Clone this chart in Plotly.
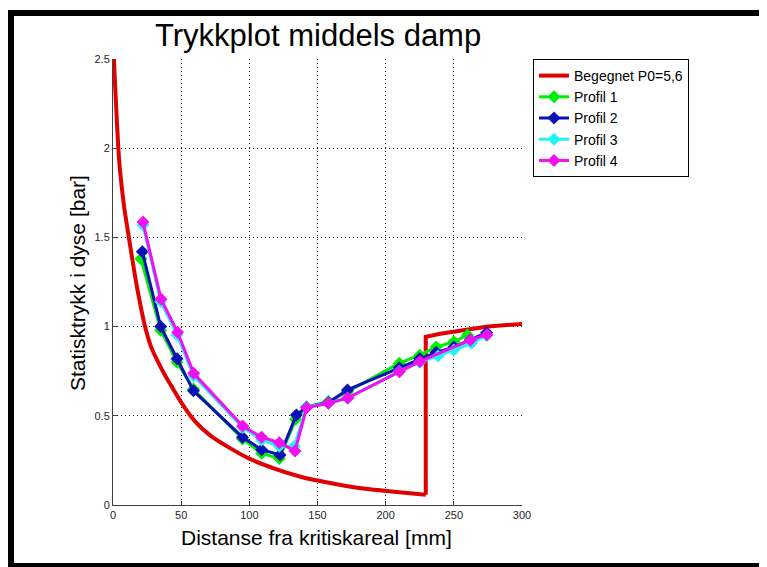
import plotly.graph_objects as go

# Begegnet P0=5,6 (red): falling branch, then the jump and upper branch
red_x = [0.4, 0.7, 2, 3.9, 5.1, 8, 11.2, 15.6, 18.1, 23.5, 28, 33.2, 39.4, 43, 50,
         60, 71, 83.4, 100, 120, 137, 150, 170, 188.5, 210, 229.4]
red_y = [2.6, 2.5, 2.28, 2.0, 1.88, 1.68, 1.52, 1.31, 1.2, 1.0, 0.885, 0.80, 0.71, 0.665, 0.575,
         0.47, 0.392, 0.33, 0.26, 0.2, 0.16, 0.137, 0.108, 0.088, 0.072, 0.058]
red_jump_x = [229.4, 229.4, 240, 257, 275, 300]
red_jump_y = [0.058, 0.943, 0.96, 0.981, 1.0, 1.015]

p1_x = [20.5, 35, 47, 59, 95, 109, 122, 134, 142, 158, 172, 210, 225, 237, 250, 260]
p1_y = [1.38, 0.98, 0.80, 0.65, 0.37, 0.29, 0.26, 0.48, 0.55, 0.58, 0.635, 0.795, 0.84, 0.885, 0.915, 0.953]

p2_x = [21.5, 35, 47, 59, 95, 109, 122.5, 134.5, 142, 158, 172, 210, 225, 237, 250, 262, 274]
p2_y = [1.42, 1.0, 0.82, 0.64, 0.38, 0.31, 0.28, 0.505, 0.55, 0.575, 0.645, 0.77, 0.82, 0.855, 0.885, 0.925, 0.966]

p3_x = [22, 35, 47, 59, 95, 109, 122, 133, 142, 158, 172, 210, 225, 238.5, 250, 263, 274]
p3_y = [1.57, 1.14, 0.955, 0.725, 0.435, 0.365, 0.33, 0.33, 0.55, 0.57, 0.60, 0.75, 0.80, 0.835, 0.869, 0.906, 0.95]

p4_x = [22, 35.2, 47.4, 59.2, 95.1, 109, 122, 133.5, 142, 158, 172.3, 210, 225.2, 262.2, 274.3]
p4_y = [1.586, 1.155, 0.968, 0.738, 0.443, 0.38, 0.349, 0.303, 0.545, 0.57, 0.60, 0.747, 0.805, 0.925, 0.955]

profiles = [
    ("Profil 1", p1_x, p1_y, "#00ee00"),
    ("Profil 2", p2_x, p2_y, "#0a10b8"),
    ("Profil 3", p3_x, p3_y, "#22f4f4"),
    ("Profil 4", p4_x, p4_y, "#f010f0"),
]

FONT = "Liberation Sans, Arial, sans-serif"
RED = "#e00000"

fig = go.Figure()
fig.add_trace(go.Scatter(x=red_x, y=red_y, mode="lines", name="Begegnet P0=5,6", legendgroup="red",
                         line=dict(color=RED, width=4, shape="spline", smoothing=0.8)))
fig.add_trace(go.Scatter(x=red_jump_x, y=red_jump_y, mode="lines", legendgroup="red", showlegend=False,
                         line=dict(color=RED, width=4)))
for name, xs, ys, col in profiles:
    fig.add_trace(go.Scatter(x=xs, y=ys, mode="lines+markers", name=name,
                             line=dict(color=col, width=3),
                             marker=dict(symbol="diamond", size=10, color=col)))

# the page body has an 8px margin, so the figure is drawn 8px smaller and shifted
OFF = 8
W, H = 767 - OFF, 567 - OFF
# plot area in reference pixels: x 113..522, y 59..505
L, R, T, B = 113 - OFF, 522 - OFF, 59 - OFF, 505 - OFF


def px(xp):
    return (xp - OFF - L) / (R - L)


def py(yp):
    return (B - (yp - OFF)) / (B - T)


frame = [(7, 10, 14, 567), (7, 10, 767, 16), (7, 563, 767, 567), (764, 10, 766, 567)]
shapes = [dict(type="rect", xref="paper", yref="paper", x0=px(a), x1=px(c), y0=py(d), y1=py(b),
               fillcolor="black", line=dict(width=0), layer="above") for a, b, c, d in frame]

axis_common = dict(showgrid=True, gridcolor="#202020", griddash="1px,3px", gridwidth=1,
                   showline=True, linecolor="#404040", linewidth=1,
                   ticks="inside", ticklen=4, tickcolor="#404040",
                   tickfont=dict(family=FONT, size=11, color="#262626"),
                   zeroline=False, fixedrange=True)

fig.update_layout(
    width=W, height=H,
    margin=dict(l=L, r=W - R, t=T, b=H - B, autoexpand=False),
    paper_bgcolor="white", plot_bgcolor="white",
    xaxis=dict(range=[0, 300], dtick=50, **axis_common),
    yaxis=dict(range=[0, 2.5], dtick=0.5, **axis_common),
    showlegend=True,
    legend=dict(x=px(533), y=1.0, xanchor="left", yanchor="top",
                bordercolor="black", borderwidth=1, bgcolor="white",
                font=dict(family=FONT, size=14, color="black"),
                tracegroupgap=0, itemwidth=30),
    shapes=shapes,
    annotations=[
        dict(text="Trykkplot middels damp", xref="paper", yref="paper", x=0.5, y=py(35),
             xanchor="center", yanchor="middle", showarrow=False,
             font=dict(family=FONT, size=31, color="black")),
        dict(text="Distanse fra kritiskareal [mm]", xref="paper", yref="paper", x=px(316), y=py(537),
             xanchor="center", yanchor="middle", showarrow=False,
             font=dict(family=FONT, size=21, color="black")),
        dict(text="Statisktrykk i dyse [bar]", xref="paper", yref="paper", x=px(77), y=py(283),
             xanchor="center", yanchor="middle", showarrow=False, textangle=-90,
             font=dict(family=FONT, size=21, color="black")),
    ],
)

fig.write_html("out.html")
